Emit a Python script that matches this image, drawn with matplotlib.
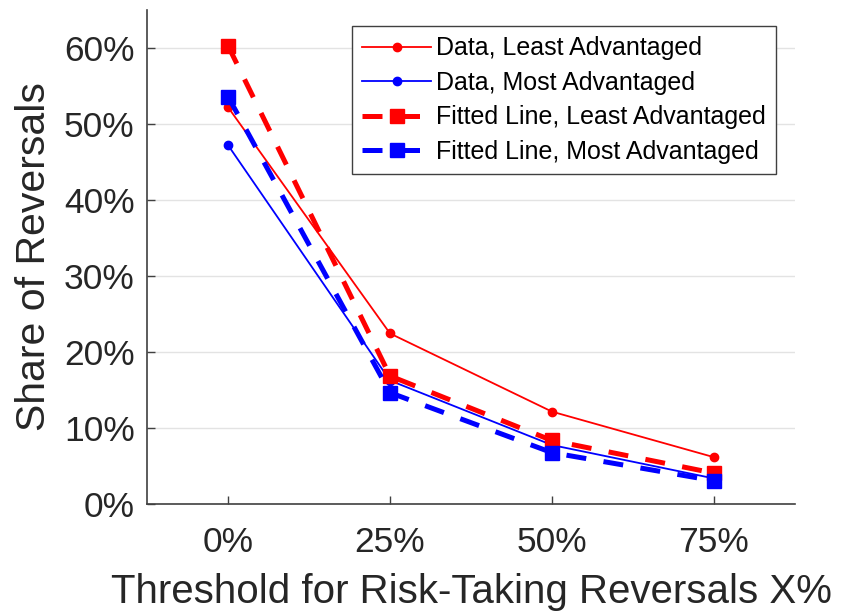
import matplotlib
matplotlib.use("Agg")
import matplotlib.pyplot as plt
from matplotlib.ticker import FuncFormatter

plt.rcParams['font.family'] = ['Liberation Sans', 'DejaVu Sans']

thresholds = [0, 25, 50, 75]

data_least = [52.2, 22.4, 12.1, 6.1]
data_most = [47.2, 16.2, 7.7, 3.3]
fit_least = [60.3, 16.8, 8.3, 4.0]
fit_most = [53.6, 14.6, 6.7, 3.0]

labels = ["Data, Least Advantaged", "Data, Most Advantaged",
          "Fitted Line, Least Advantaged", "Fitted Line, Most Advantaged"]

fig = plt.figure(figsize=(8.41, 6.13), dpi=100)
ax = fig.add_axes([0.1748, 0.1786, 0.7705, 0.8051])

ax.plot(thresholds, data_least, color='#ff0000', lw=1.3, marker='o', ms=6, label=labels[0])
ax.plot(thresholds, data_most, color='#0000ff', lw=1.3, marker='o', ms=6, label=labels[1])
l3, = ax.plot(thresholds, fit_least, color='#ff0000', lw=3.6, marker='s', ms=9.5, label=labels[2])
l4, = ax.plot(thresholds, fit_most, color='#0000ff', lw=3.6, marker='s', ms=9.5, label=labels[3])
l3.set_dashes((4, 3.5))
l4.set_dashes((4, 3.5))

ax.set_xlim(-12.5, 87.5)
ax.set_ylim(0, 65)
ax.set_xticks(thresholds)
ax.set_yticks([0, 10, 20, 30, 40, 50, 60])
pct = FuncFormatter(lambda v, p: "%d%%" % v)
ax.xaxis.set_major_formatter(pct)
ax.yaxis.set_major_formatter(pct)

ax.yaxis.grid(True, color='#e3e3e3', lw=1.0)
ax.set_axisbelow(True)

for s in ['top', 'right']:
    ax.spines[s].set_visible(False)
for s in ['left', 'bottom']:
    ax.spines[s].set_color('#404040')
    ax.spines[s].set_linewidth(1.2)

ax.tick_params(direction='in', length=6, width=1.0, color='#404040',
               labelsize=25.5, labelcolor='#262626')
ax.tick_params(axis='x', pad=16)
ax.tick_params(axis='y', pad=9)

ax.set_xlabel("Threshold for Risk-Taking Reversals X%", fontsize=29, color='#262626', labelpad=10)
ax.set_ylabel("Share of Reversals", fontsize=29.5, color='#262626', labelpad=8)

leg = ax.legend(loc='upper right', bbox_to_anchor=(0.971, 0.967), fontsize=18,
                handlelength=2.75, handletextpad=0.22, borderpad=0.4, labelspacing=0.42,
                fancybox=False, framealpha=1, borderaxespad=0)
leg.get_frame().set_edgecolor('#404040')
leg.get_frame().set_linewidth(1.0)

fig.savefig("out.png", dpi=100)
